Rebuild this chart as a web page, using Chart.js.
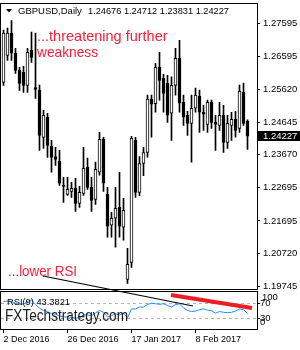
<!DOCTYPE html>
<html>
<head>
<meta charset="utf-8">
<script src="https://cdn.jsdelivr.net/npm/chart.js@4"></script>
<style>
  html, body { margin: 0; padding: 0; background: #fff; }
</style>
</head>
<body>
<canvas id="chart" width="300" height="350"></canvas>
<script>
// GBPUSD daily candles
const dates = ['2 Dec 2016','5 Dec 2016','6 Dec 2016','7 Dec 2016','8 Dec 2016','9 Dec 2016','12 Dec 2016','13 Dec 2016','14 Dec 2016','15 Dec 2016',
  '16 Dec 2016','19 Dec 2016','20 Dec 2016','21 Dec 2016','22 Dec 2016','23 Dec 2016','26 Dec 2016','27 Dec 2016','28 Dec 2016','29 Dec 2016',
  '30 Dec 2016','2 Jan 2017','3 Jan 2017','4 Jan 2017','5 Jan 2017','6 Jan 2017','9 Jan 2017','10 Jan 2017','11 Jan 2017','12 Jan 2017',
  '13 Jan 2017','16 Jan 2017','17 Jan 2017','18 Jan 2017','19 Jan 2017','20 Jan 2017','23 Jan 2017','24 Jan 2017','25 Jan 2017','26 Jan 2017',
  '27 Jan 2017','30 Jan 2017','31 Jan 2017','1 Feb 2017','2 Feb 2017','3 Feb 2017','6 Feb 2017','7 Feb 2017','8 Feb 2017','9 Feb 2017',
  '10 Feb 2017','13 Feb 2017','14 Feb 2017','15 Feb 2017','16 Feb 2017','17 Feb 2017','20 Feb 2017','21 Feb 2017','22 Feb 2017','23 Feb 2017',
  '24 Feb 2017','27 Feb 2017'];
const opens = [1.2583, 1.2664, 1.2730, 1.2670, 1.2619, 1.2613, 1.2574, 1.2679, 1.2568, 1.2560,
  1.2419, 1.2479, 1.2392, 1.2362, 1.2348, 1.2276, 1.2249, 1.2258, 1.2267, 1.2222,
  1.2252, 1.2330, 1.2270, 1.2234, 1.2315, 1.2413, 1.2249, 1.2157, 1.2178, 1.2210,
  1.2151, 1.1995, 1.2046, 1.2410, 1.2255, 1.2341, 1.2374, 1.2533, 1.2520, 1.2628,
  1.2595, 1.2580, 1.2491, 1.2574, 1.2655, 1.2524, 1.2485, 1.2461, 1.2506, 1.2542,
  1.2494, 1.2458, 1.2524, 1.2464, 1.2455, 1.2485, 1.2404, 1.2455, 1.2473, 1.2446,
  1.2554, 1.24676];
const highs = [1.2739, 1.2745, 1.2768, 1.2685, 1.2628, 1.2631, 1.2685, 1.2733, 1.2730, 1.2575,
  1.2500, 1.2491, 1.2410, 1.2389, 1.2380, 1.2300, 1.2300, 1.2285, 1.2297, 1.2273,
  1.2389, 1.2357, 1.2300, 1.2345, 1.2434, 1.2419, 1.2270, 1.2195, 1.2270, 1.2315,
  1.2237, 1.2088, 1.2422, 1.2419, 1.2362, 1.2389, 1.2545, 1.2545, 1.2640, 1.2673,
  1.2607, 1.2604, 1.2600, 1.2685, 1.2709, 1.2545, 1.2497, 1.2545, 1.2566, 1.2560,
  1.2515, 1.2530, 1.2530, 1.2485, 1.2524, 1.2515, 1.2485, 1.2494, 1.2497, 1.2575,
  1.2581, 1.24712];
const lows = [1.2574, 1.2649, 1.2649, 1.2610, 1.2559, 1.2553, 1.2553, 1.2643, 1.2535, 1.2380,
  1.2386, 1.2359, 1.2315, 1.2335, 1.2276, 1.2225, 1.2246, 1.2240, 1.2198, 1.2210,
  1.2246, 1.2264, 1.2198, 1.2219, 1.2306, 1.2258, 1.2121, 1.2121, 1.2091, 1.2121,
  1.2112, 1.1983, 1.2031, 1.2240, 1.2245, 1.2305, 1.2360, 1.2420, 1.2494, 1.2530,
  1.2494, 1.2464, 1.2410, 1.2545, 1.2494, 1.2455, 1.2425, 1.2345, 1.2494, 1.2434,
  1.2440, 1.2434, 1.2446, 1.2380, 1.2440, 1.2374, 1.2386, 1.2410, 1.2420, 1.2434,
  1.2455, 1.23831];
const closes = [1.2730, 1.2730, 1.2670, 1.2619, 1.2580, 1.2574, 1.2673, 1.2658, 1.2562, 1.2425,
  1.2485, 1.2395, 1.2359, 1.2353, 1.2282, 1.2273, 1.2264, 1.2267, 1.2222, 1.2255,
  1.2327, 1.2270, 1.2231, 1.2324, 1.2413, 1.2282, 1.2154, 1.2178, 1.2207, 1.2154,
  1.2201, 1.2040, 1.2416, 1.2255, 1.2341, 1.2374, 1.2533, 1.2518, 1.2628, 1.2589,
  1.2550, 1.2485, 1.2574, 1.2655, 1.2521, 1.2479, 1.2461, 1.2506, 1.2545, 1.2494,
  1.2488, 1.2524, 1.2464, 1.2458, 1.2485, 1.2404, 1.2461, 1.2473, 1.2440, 1.2557,
  1.2461, 1.24227];

// RSI(9)
const rsi = [74.5, 76, 75, 70, 67, 68, 75, 78, 67, 57,
  51, 48, 42.5, 41, 36, 34, 33.5, 32.7, 30, 32,
  39, 39, 37, 44, 51, 46, 33.5, 37, 42.5, 39,
  44, 32, 55, 55, 60, 60, 67, 70, 69, 67,
  69, 64, 60, 67, 68, 58, 51, 48, 49.5, 53,
  55, 52, 50, 44, 48, 46, 45, 46, 49.5, 55,
  53, 43.3821];

const priceTicks = [1.27595, 1.26595, 1.25620, 1.24645, 1.23670, 1.22695, 1.21695, 1.20720, 1.19745];
const dateTicks = [0, 16, 32, 48];
const rsiLevels = [70, 30];
const rsiTickLabels = [100, 70, 30, 0];

// hand drawn trend lines (x = bar index, y = RSI units)
const rsiTrendBlack = [{x: 9.875, y: 142.7}, {x: 47.375, y: 62.8}];
const rsiTrendRed = [{x: 41.875, y: 92.1}, {x: 62.125, y: 57.5}];

const FONT = "'Liberation Sans', Arial, sans-serif";
const last = closes.length - 1;

const overlay = {
    id: 'overlay',
    beforeDatasetsDraw(chart) {
        const {ctx, chartArea: a, scales: {y2}} = chart;
        ctx.save();
        ctx.strokeStyle = '#b4b4b4';
        ctx.lineWidth = 1;
        ctx.setLineDash([3, 3]);
        rsiLevels.forEach(level => {
            const py = Math.round(y2.getPixelForValue(level)) + 0.5;
            ctx.beginPath();
            ctx.moveTo(a.left, py);
            ctx.lineTo(a.right, py);
            ctx.stroke();
        });
        ctx.restore();
    },
    afterDraw(chart) {
        const {ctx, chartArea: a, scales: {y, y2}} = chart;
        const split = Math.floor(y.bottom);
        ctx.save();

        // panel frames
        ctx.strokeStyle = '#000';
        ctx.lineWidth = 1;
        ctx.strokeRect(a.left - 0.5, a.top + 0.5, a.right - a.left + 1, split - 1 - a.top);
        ctx.strokeRect(a.left - 0.5, split + 1.5, a.right - a.left + 1, a.bottom - split - 1);

        // title line
        ctx.fillStyle = '#000';
        ctx.beginPath();
        ctx.moveTo(6, 9);
        ctx.lineTo(12, 9);
        ctx.lineTo(9, 12.5);
        ctx.closePath();
        ctx.fill();
        ctx.font = '9.5px ' + FONT;
        ctx.textBaseline = 'alphabetic';
        ctx.fillText('GBPUSD,Daily', 18, 13.5);
        const quote = [opens[last], highs[last], lows[last], closes[last]].map(v => v.toFixed(5)).join(' ');
        ctx.fillText(quote, 88, 13.5, 141);

        // comments
        ctx.fillStyle = '#f0233c';
        ctx.font = '14.5px ' + FONT;
        ctx.fillText('...threatening further', 37, 40.5, 131);
        ctx.fillText('weakness', 37, 56.5, 61);
        ctx.fillText('...lower RSI', 8, 276, 69);

        // RSI caption
        ctx.fillStyle = '#000';
        ctx.font = '9.5px ' + FONT;
        ctx.fillText('RSI(9) ' + rsi[last].toFixed(4), 7, 304.5, 63);

        // RSI scale labels, kept inside the pane
        ctx.textBaseline = 'middle';
        rsiTickLabels.forEach(v => {
            let py = y2.getPixelForValue(v);
            py = Math.min(Math.max(py, y2.top + 6.5), a.bottom - 6.5);
            ctx.fillText(String(v), v === 100 ? a.right + 5 : a.right + 3, py);
        });
        rsiLevels.forEach(level => {
            const py = Math.round(y2.getPixelForValue(level)) + 0.5;
            ctx.beginPath();
            ctx.moveTo(a.right, py);
            ctx.lineTo(a.right + 3, py);
            ctx.stroke();
        });

        // last price marker
        const py = y.getPixelForValue(closes[last]);
        ctx.fillRect(a.right + 1, Math.round(py) - 5, 42, 10);
        ctx.fillStyle = '#fff';
        ctx.fillText(closes[last].toFixed(5), a.right + 6, Math.round(py));

        // watermark
        ctx.fillStyle = '#1a1a1a';
        ctx.textBaseline = 'alphabetic';
        ctx.font = '16px ' + FONT;
        ctx.fillText('FXTechstrategy.com', 5, 321.3, 123);
        ctx.restore();
    }
};

function createChart() {
    const ctx = document.getElementById('chart').getContext('2d');

    new Chart(ctx, {
        type: 'bar',
        data: {
            datasets: [{
                // candle bodies
                data: dates.map((d, i) => ({x: i, y: [opens[i], closes[i]]})),
                backgroundColor: c => closes[c.dataIndex] >= opens[c.dataIndex] ? '#fff' : '#000',
                borderColor: '#000',
                borderWidth: 1,
                borderSkipped: false,
                barThickness: 3,
                minBarLength: 1,
                grouped: false,
                yAxisID: 'y',
                order: 1
            }, {
                // wicks
                data: dates.map((d, i) => ({x: i, y: [lows[i], highs[i]]})),
                backgroundColor: '#000',
                borderWidth: 0,
                barThickness: 1,
                grouped: false,
                yAxisID: 'y',
                order: 2
            }, {
                type: 'line',
                data: rsi.map((v, i) => ({x: i, y: v})),
                borderColor: '#1e90ff',
                borderWidth: 1,
                pointRadius: 0,
                tension: 0,
                yAxisID: 'y2',
                order: 0
            }, {
                type: 'line',
                data: rsiTrendBlack,
                borderColor: '#000',
                borderWidth: 1.2,
                pointRadius: 0,
                clip: false,
                yAxisID: 'y2',
                order: 0
            }, {
                type: 'line',
                data: rsiTrendRed,
                borderColor: '#ee1d24',
                borderWidth: 4,
                pointRadius: 0,
                yAxisID: 'y2',
                order: 0
            }]
        },
        options: {
            responsive: false,
            devicePixelRatio: 1,
            animation: false,
            events: [],
            layout: {
                padding: {left: 1, top: 3, right: 0, bottom: 0}
            },
            plugins: {
                legend: {display: false},
                tooltip: {enabled: false}
            },
            scales: {
                x: {
                    type: 'linear',
                    min: -0.625,
                    max: 63.375,
                    offset: false,
                    afterBuildTicks: s => { s.ticks = dateTicks.map(v => ({value: v})); },
                    afterFit: s => { s.height = 21; s.paddingLeft = 0; s.paddingRight = 0; },
                    ticks: {
                        callback: v => dates[v],
                        align: 'start',
                        maxRotation: 0,
                        autoSkip: false,
                        padding: 1,
                        color: '#000',
                        font: {family: FONT, size: 9}
                    },
                    grid: {
                        offset: false,
                        drawOnChartArea: false,
                        tickLength: 4,
                        color: '#000'
                    },
                    border: {display: false}
                },
                y: {
                    type: 'linear',
                    position: 'right',
                    stack: 'panes',
                    stackWeight: 287.5,
                    min: 1.19620,
                    max: 1.28201,
                    afterBuildTicks: s => { s.ticks = priceTicks.map(v => ({value: v})); },
                    afterFit: s => { s.width = 43; s.paddingTop = 0; s.paddingBottom = 0; },
                    ticks: {
                        callback: v => v.toFixed(5),
                        autoSkip: false,
                        padding: 3,
                        color: '#000',
                        font: {family: FONT, size: 9.5}
                    },
                    grid: {
                        drawOnChartArea: false,
                        tickLength: 3,
                        color: '#000'
                    },
                    border: {display: false}
                },
                y2: {
                    type: 'linear',
                    position: 'right',
                    stack: 'panes',
                    stackWeight: 38.5,
                    min: 1.5,
                    max: 104.1,
                    afterFit: s => { s.width = 43; s.paddingTop = 0; s.paddingBottom = 0; },
                    ticks: {display: false},
                    grid: {display: false},
                    border: {display: false}
                }
            }
        },
        plugins: [overlay]
    });
}

document.addEventListener('DOMContentLoaded', createChart);
</script>
</body>
</html>
